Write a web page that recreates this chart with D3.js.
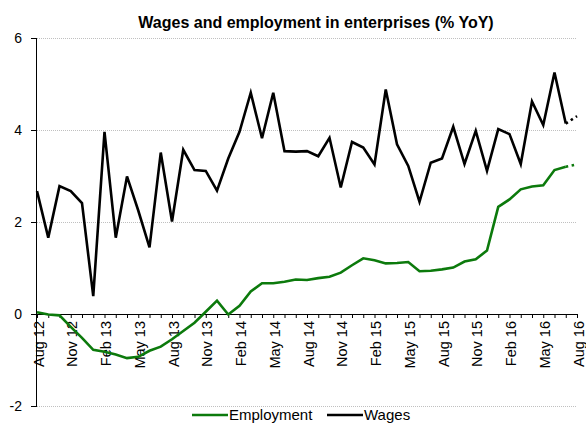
<!DOCTYPE html>
<html>
<head>
<meta charset="utf-8">
<script src="https://cdn.jsdelivr.net/npm/d3@7"></script>
<style>
  html, body { margin: 0; padding: 0; background: #fff; }
  svg { display: block; }
  text { font-family: "Liberation Sans", Arial, sans-serif; }
</style>
</head>
<body>
<svg id="chart" width="586" height="423"></svg>
<script>
const months = ["Aug 12","Sep 12","Oct 12","Nov 12","Dec 12","Jan 13","Feb 13","Mar 13","Apr 13","May 13","Jun 13","Jul 13",
  "Aug 13","Sep 13","Oct 13","Nov 13","Dec 13","Jan 14","Feb 14","Mar 14","Apr 14","May 14","Jun 14","Jul 14",
  "Aug 14","Sep 14","Oct 14","Nov 14","Dec 14","Jan 15","Feb 15","Mar 15","Apr 15","May 15","Jun 15","Jul 15",
  "Aug 15","Sep 15","Oct 15","Nov 15","Dec 15","Jan 16","Feb 16","Mar 16","Apr 16","May 16","Jun 16","Jul 16","Aug 16"];
const wages = [2.67,1.66,2.78,2.67,2.41,0.39,3.96,1.66,2.99,2.25,1.45,3.51,
  2.01,3.57,3.13,3.11,2.68,3.38,3.96,4.81,3.82,4.81,3.54,3.53,
  3.54,3.43,3.83,2.75,3.74,3.62,3.25,4.88,3.69,3.22,2.44,3.29,
  3.38,4.07,3.26,3.98,3.11,4.02,3.91,3.26,4.62,4.11,5.25,4.14,4.30];
const employment = [0.04,-0.01,-0.03,-0.28,-0.52,-0.78,-0.82,-0.88,-0.96,-0.93,-0.80,-0.71,
  -0.55,-0.37,-0.19,0.05,0.29,-0.01,0.18,0.49,0.67,0.67,0.70,0.75,
  0.74,0.78,0.81,0.90,1.06,1.21,1.17,1.10,1.11,1.13,0.93,0.94,
  0.97,1.01,1.14,1.19,1.38,2.33,2.49,2.71,2.77,2.80,3.13,3.20,3.25];
const yTicks = [-2, 0, 2, 4, 6];
const labelEvery = 3;
const title = "Wages and employment in enterprises (% YoY)";
const seriesNames = ["Employment", "Wages"];

const svg = d3.select("#chart");
const pLeft = 37, pRight = 577, pTop = 38, pBottom = 406;
const x = d3.scalePoint().domain(months).range([pLeft, pRight]);
const y = d3.scaleLinear().domain([-2, 6]).range([pBottom, pTop]);

// gridlines
svg.append("g").selectAll("line").data(yTicks.filter(d => d !== 0)).join("line")
  .attr("x1", pLeft).attr("x2", pRight)
  .attr("y1", d => y(d) + 0.5).attr("y2", d => y(d) + 0.5)
  .attr("stroke", "#c0c0c0").attr("stroke-width", 1).attr("stroke-dasharray", "1,1");

// y axis
const yAxis = svg.append("g").attr("transform", `translate(${pLeft},0)`)
  .call(d3.axisLeft(y).tickValues(yTicks).tickSize(6).tickPadding(9).tickFormat(d => String(d)));
yAxis.select(".domain").attr("stroke", "#000").attr("d", `M-0.5,${pTop}V${pBottom}`);
yAxis.selectAll(".tick line").attr("stroke", "#000");
yAxis.selectAll("text").attr("font-size", 14).attr("fill", "#000").attr("font-family", "Liberation Sans, Arial, sans-serif");

// x axis at zero
const xAxis = svg.append("g").attr("transform", `translate(0,${y(0)})`)
  .call(d3.axisBottom(x).tickSize(4).tickFormat((d, i) => i % labelEvery === 0 ? d : ""));
xAxis.select(".domain").attr("stroke", "#000").attr("d", `M${pLeft},0.5H${pRight}`);
xAxis.selectAll(".tick line").attr("stroke", "#000");
xAxis.selectAll("text")
  .attr("font-size", 14.5).attr("fill", "#000").attr("font-family", "Liberation Sans, Arial, sans-serif")
  .attr("text-anchor", "end")
  .attr("transform", "rotate(-90)")
  .attr("x", -7).attr("y", 1).attr("dy", "0.35em");

// lines
function drawSeries(vals, color) {
  const n = vals.length;
  svg.append("path").datum(vals.slice(0, n - 1))
    .attr("fill", "none").attr("stroke", color).attr("stroke-width", 2.6)
    .attr("stroke-linejoin", "miter").attr("d", d3.line().x((d, i) => x(months[i])).y(d => y(d)));
  svg.append("path").datum([vals[n - 2], vals[n - 1]])
    .attr("fill", "none").attr("stroke", color).attr("stroke-width", 2.6)
    .attr("stroke-dasharray", "2.5,3.5")
    .attr("d", d3.line().x((d, i) => x(months[n - 2 + i])).y(d => y(d)));
}
drawSeries(employment, "#0c7a0c");
drawSeries(wages, "#000");

// title
svg.append("text").attr("x", 316).attr("y", 28).attr("text-anchor", "middle")
  .attr("font-size", 16).attr("font-weight", "bold").text(title);

// legend
const legend = [{name: seriesNames[0], color: "#0c7a0c", x: 192}, {name: seriesNames[1], color: "#000", x: 327}];
const lg = svg.append("g");
legend.forEach(l => {
  lg.append("line").attr("x1", l.x).attr("x2", l.x + 36).attr("y1", 415).attr("y2", 415)
    .attr("stroke", l.color).attr("stroke-width", 2.6);
  lg.append("text").attr("x", l.x + 37).attr("y", 420).attr("font-size", 15).text(l.name);
});
</script>
</body>
</html>
